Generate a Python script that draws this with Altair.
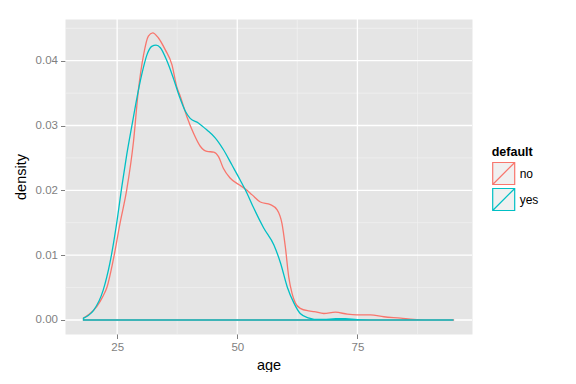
import altair as alt
import pandas as pd

# ---- data ----
age_no = [18.0, 19.0, 20.8, 22.0, 22.9, 24.2, 25.6, 27.0, 28.4, 29.4, 30.5, 31.5, 32.4,
          33.6, 35.0, 36.4, 37.4, 38.1, 39.5, 40.9, 42.3, 43.7, 45.1, 46.1, 47.1, 48.5,
          50.3, 51.7, 53.1, 54.8, 56.9, 58.3, 59.3, 60.0, 60.7, 61.4, 62.1, 63.1, 64.9,
          66.0, 68.0, 70.4, 72.9, 74.9, 77.7, 80.5, 84.0, 86.7, 90.0, 95.0]
dens_no = [0.0003, 0.0008, 0.0021, 0.0036, 0.0051, 0.0093, 0.0149, 0.0201, 0.0275, 0.0353,
           0.0409, 0.0438, 0.0443, 0.0435, 0.0417, 0.0394, 0.0360, 0.0346, 0.0314, 0.0288,
           0.0268, 0.0260, 0.0259, 0.0252, 0.0234, 0.0219, 0.0209, 0.0202, 0.0193, 0.0182,
           0.0178, 0.0170, 0.0149, 0.0113, 0.0067, 0.0041, 0.0026, 0.0018, 0.0014, 0.0013,
           0.0010, 0.0012, 0.0009, 0.0008, 0.0008, 0.0005, 0.0003, 0.0001, 0.00003, 0.00001]

age_yes = [18.0, 19.0, 20.1, 22.1, 23.5, 24.9, 26.0, 27.0, 28.1, 29.1, 30.1, 31.2, 32.2,
           33.1, 34.0, 35.4, 36.7, 38.1, 39.2, 40.2, 41.9, 43.7, 45.4, 47.1, 48.9, 50.6,
           52.0, 53.4, 55.5, 57.6, 59.0, 60.4, 61.8, 63.1, 64.9, 66.0, 68.0, 70.5, 72.5,
           75.0, 80.0, 95.0]
dens_yes = [0.0003, 0.0007, 0.0015, 0.0046, 0.0088, 0.0149, 0.0207, 0.0255, 0.0301, 0.0342,
            0.0378, 0.0409, 0.0422, 0.0424, 0.0420, 0.0399, 0.0373, 0.0342, 0.0322, 0.0311,
            0.0304, 0.0293, 0.0281, 0.0263, 0.0239, 0.0216, 0.0196, 0.0173, 0.0142, 0.0116,
            0.0088, 0.0051, 0.0026, 0.0010, 0.0003, 0.0001, 0.0001, 0.0002, 0.0002, 0.00005,
            0.0, 0.0]

groups = ["no", "yes"]
colors = ["#F8766D", "#00BFC4"]

x_major = [25, 50, 75]
x_minor = [37.5, 62.5, 87.5]
y_major = [0.0, 0.01, 0.02, 0.03, 0.04]
y_minor = [0.005, 0.015, 0.025, 0.035, 0.045]

x_domain = [14.15, 98.85]
y_domain = [-0.00216, 0.04643]

FONT = "Liberation Sans"

df = pd.concat([
    pd.DataFrame({"age": age_no, "density": dens_no, "default": "no"}),
    pd.DataFrame({"age": age_yes, "density": dens_yes, "default": "yes"}),
], ignore_index=True)

xs = alt.Scale(domain=x_domain, nice=False, zero=False)
ys = alt.Scale(domain=y_domain, nice=False, zero=False)

x_axis = alt.Axis(values=x_major, title="age", grid=False, domain=False,
                  tickColor="#7F7F7F", tickSize=4.5, tickWidth=1,
                  labelColor="#7F7F7F", labelFontSize=11.5, labelFont=FONT,
                  labelPadding=3, titleFont=FONT, titleFontSize=14.5,
                  titleFontWeight="normal", titleColor="black",
                  titleY=31, titleBaseline="middle")
y_axis = alt.Axis(values=y_major, format=".2f", title="density", grid=False,
                  domain=False, tickColor="#7F7F7F", tickSize=4.5, tickWidth=1,
                  labelColor="#7F7F7F", labelFontSize=11.5, labelFont=FONT,
                  labelPadding=3, titleFont=FONT, titleFontSize=14.5,
                  titleFontWeight="normal", titleColor="black",
                  titleX=-44, titleY=157.5, titleAngle=270,
                  titleBaseline="middle", titleAlign="center")

minor_x = alt.Chart(pd.DataFrame({"v": x_minor})).mark_rule(
    color="#F2F2F2", strokeWidth=0.7).encode(x=alt.X("v:Q", scale=xs, axis=x_axis, title="age"))
minor_y = alt.Chart(pd.DataFrame({"v": y_minor})).mark_rule(
    color="#F2F2F2", strokeWidth=0.7).encode(y=alt.Y("v:Q", scale=ys, axis=y_axis, title="density"))
major_x = alt.Chart(pd.DataFrame({"v": x_major})).mark_rule(
    color="white", strokeWidth=1.3).encode(x=alt.X("v:Q", scale=xs, axis=x_axis, title="age"))
major_y = alt.Chart(pd.DataFrame({"v": y_major})).mark_rule(
    color="white", strokeWidth=1.3).encode(y=alt.Y("v:Q", scale=ys, axis=y_axis, title="density"))

legend_path = "M-1,-1H1V1H-1Z M-1,1L1,-1"

dens = alt.Chart(df).mark_area(
    filled=False, strokeWidth=1.3, interpolate="monotone"
).encode(
    x=alt.X("age:Q", scale=xs, axis=x_axis, title="age"),
    y=alt.Y("density:Q", scale=ys, stack=None, axis=y_axis, title="density"),
    y2=alt.datum(0),
    stroke=alt.Stroke("default:N",
                      scale=alt.Scale(domain=groups, range=colors),
                      legend=alt.Legend(title="default", orient="none",
                                        legendX=426.7, legendY=127,
                                        symbolType=legend_path, symbolSize=484,
                                        symbolStrokeWidth=1.2,
                                        symbolFillColor="#F0F0F0",
                                        symbolOpacity=1,
                                        rowPadding=-12, labelOffset=4, padding=0,
                                        titleFont=FONT, titleFontSize=12.5,
                                        titleFontWeight="bold", titleColor="black",
                                        titlePadding=3, labelFont=FONT,
                                        labelFontSize=12, labelColor="black")),
)

chart = alt.layer(minor_x, minor_y, major_x, major_y, dens).properties(
    width=407, height=315,
    padding={"left": 57, "top": 11, "right": 90, "bottom": 38},
    autosize=alt.AutoSizeParams(type="none"),
).configure_view(fill="#E5E5E5", stroke="transparent")

chart.save("out.html", embed_options={"renderer": "svg", "actions": False})
